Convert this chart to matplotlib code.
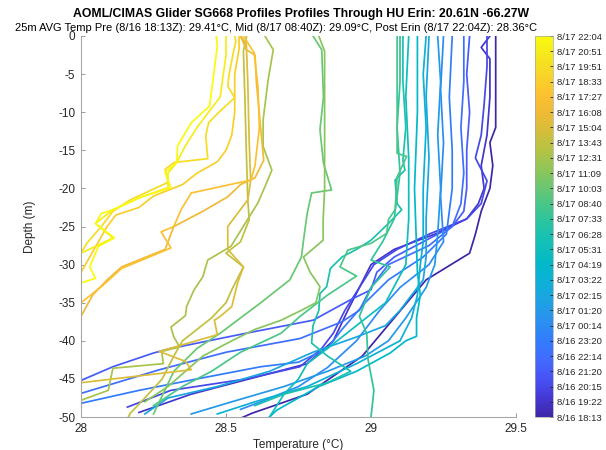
import matplotlib
matplotlib.use("Agg")
import matplotlib.pyplot as plt
import numpy as np
from matplotlib.colors import LinearSegmentedColormap, Normalize
from matplotlib.cm import ScalarMappable

plt.rcParams['font.family'] = ['Liberation Sans', 'DejaVu Sans']
plt.rcParams['axes.unicode_minus'] = False

# profile times, oldest first
times = ['8/16 18:13', '8/16 19:22', '8/16 20:15', '8/16 21:20', '8/16 22:14',
         '8/16 23:20', '8/17 00:14', '8/17 01:20', '8/17 02:15', '8/17 03:22',
         '8/17 04:19', '8/17 05:31', '8/17 06:28', '8/17 07:33', '8/17 08:40',
         '8/17 10:03', '8/17 11:09', '8/17 12:31', '8/17 13:43', '8/17 15:04',
         '8/17 16:08', '8/17 17:27', '8/17 18:33', '8/17 19:51', '8/17 20:51',
         '8/17 22:04']

# temperature (C) and depth (m) along each glider profile
temps = [
    [29.43, 29.43, 29.43, 29.43, 29.41, 29.42, 29.41, 29.38, 29.36, 29.34, 29.19, 29.08, 28.97, 28.78, 28.59, 28.50],
    [29.41, 29.38, 29.41, 29.41, 29.40, 29.38, 29.39, 29.37, 29.33, 29.22, 29.08, 29.00, 28.96, 28.92, 28.87, 28.78, 28.58, 28.38, 28.20],
    [29.40, 29.40, 29.39, 29.38, 29.36, 29.40, 29.38, 29.33, 29.20, 29.09, 29.01, 28.96, 28.91, 28.87, 28.83, 28.755, 28.57, 28.31, 28.16],
    [29.34, 29.33, 29.34, 29.33, 29.33, 29.32, 29.28, 29.18, 29.08, 29.02, 29.00, 28.93, 28.80, 28.57, 28.31, 28.25, 28.11, 28.00, 27.95],
    [29.32, 29.32, 29.31, 29.32, 29.31, 29.28, 29.20, 29.06, 29.00, 28.96, 28.90, 28.755, 28.50, 28.27, 28.00, 27.90],
    [29.28, 29.27, 29.28, 29.28, 29.26, 29.18, 29.06, 28.98, 28.90, 28.85, 28.75, 28.62, 28.40, 28.20, 28.00, 27.90],
    [29.25, 29.24, 29.25, 29.24, 29.25, 29.20, 29.10, 29.03, 28.95, 28.85, 28.75, 28.62, 28.55],
    [29.23, 29.24, 29.23, 29.24, 29.23, 29.22, 29.19, 29.12, 29.06, 28.98, 28.85, 28.70, 28.52, 28.38],
    [29.20, 29.19, 29.20, 29.19, 29.19, 29.18, 29.10, 29.05, 28.95, 28.80, 28.65, 28.47, 28.30, 28.22],
    [29.19, 29.18, 29.19, 29.18, 29.18, 29.17, 29.16, 29.14, 29.10, 28.95, 28.78, 28.60, 28.47],
    [29.16, 29.16, 29.15, 29.16, 29.17, 29.157, 29.157, 29.12, 29.066, 28.95, 28.82, 28.675, 28.65],
    [29.13, 29.12, 29.13, 29.13, 29.12, 29.05, 28.95, 28.85, 28.78, 28.75, 28.70, 28.65],
    [29.11, 29.11, 29.12, 29.11, 29.117, 29.083, 29.09, 29.106, 29.06, 29.00, 28.95, 28.90, 28.86, 28.847, 28.824, 28.82, 28.80, 28.795, 28.85, 28.93, 28.85, 28.70, 28.60],
    [29.10, 29.10, 29.09, 29.10, 29.08, 29.04, 29.00, 29.066, 29.00, 28.96, 28.985, 28.99, 29.01, 29.00],
    [29.09, 29.09, 29.09, 29.09, 29.123, 29.09, 29.083, 29.06, 29.054, 29.00, 28.92, 28.893, 28.95, 28.85, 28.755, 28.69, 28.55, 28.45, 28.35, 28.25],
    [28.80, 28.83, 28.836, 28.824, 28.836, 28.864, 28.795, 28.78, 28.77, 28.76, 28.72, 28.62, 28.55, 28.48, 28.40, 28.32, 28.25],
    [28.82, 28.84, 28.84, 28.84, 28.84, 28.835, 28.835, 28.767, 28.79, 28.824, 28.81, 28.76, 28.69, 28.60, 28.52, 28.42, 28.36, 28.30, 28.22],
    [28.634, 28.663, 28.645, 28.628, 28.628, 28.658, 28.634, 28.61, 28.517, 28.437, 28.42, 28.39, 28.364, 28.36, 28.31, 28.32, 28.34, 28.278, 28.284, 28.11, 28.094, 28.00],
    [28.571, 28.56, 28.565, 28.57, 28.575, 28.58, 28.55, 28.50, 28.56, 28.52, 28.50, 28.45, 28.35, 28.32, 28.28, 28.22, 28.17, 28.15],
    [28.55, 28.57, 28.575, 28.58, 28.585, 28.575, 28.506, 28.506, 28.56, 28.54, 28.52, 28.48, 28.46, 28.47, 28.27, 28.36, 28.38, 28.00],
    [28.55, 28.57, 28.60, 28.605, 28.62, 28.63, 28.60, 28.55, 28.506, 28.42, 28.32, 28.29, 28.14, 28.09, 28.04, 28.00, 27.98],
    [28.56, 28.597, 28.61, 28.615, 28.60, 28.586, 28.38, 28.345, 28.32, 28.276, 28.31, 28.28, 28.14, 28.07, 28.00, 27.97],
    [28.545, 28.545, 28.53, 28.53, 28.52, 28.50, 28.47, 28.40, 28.35, 28.25, 28.20, 28.12, 28.09, 28.06, 28.03, 28.00],
    [28.53, 28.534, 28.523, 28.51, 28.506, 28.53, 28.47, 28.44, 28.43, 28.437, 28.32, 28.29, 28.30, 28.17, 28.11, 28.07, 28.02, 28.00, 27.98],
    [28.50, 28.50, 28.49, 28.48, 28.44, 28.40, 28.36, 28.33, 28.30, 28.30, 28.21, 28.11, 28.05, 28.11, 28.05, 28.00, 27.97],
    [28.466, 28.47, 28.454, 28.443, 28.38, 28.333, 28.33, 28.29, 28.30, 28.31, 28.21, 28.11, 28.07, 28.05, 28.115, 28.06, 28.03, 28.05, 28.00, 27.98],
]
depths = [
    [0, -3, -8, -12, -14, -17, -20, -23, -26, -28.5, -32, -37, -42, -47, -49.5, -51],
    [0, -1.5, -3, -8, -13, -17, -20, -22, -24, -26, -28, -30, -33, -36, -40, -43, -45, -47, -49.4],
    [0, -4, -9, -13, -16, -19, -22, -24, -26, -28, -30, -33, -36, -39, -41, -43.4, -45, -46.5, -48.7],
    [0, -5, -10, -15, -20, -23, -25, -27, -29, -31, -33.3, -34.6, -37.3, -39, -41, -41.6, -43.4, -45.2, -46],
    [0, -6, -12, -18, -22, -25, -27.5, -30, -33, -36, -37.5, -39.7, -41.5, -43.8, -46.9, -48],
    [0, -8, -15, -20, -26, -29, -32, -35, -38.5, -41, -42.8, -43.4, -45, -46.5, -48.2, -49],
    [0, -7, -14, -21, -27, -30, -33, -36, -40, -43.5, -46, -48, -49],
    [0, -6, -13, -20, -26, -30, -33, -37, -40, -42, -44, -46, -48, -49.6],
    [0, -8, -16, -24, -29, -32, -36, -38, -39.5, -41.5, -44, -46, -47.5, -49.6],
    [0, -5, -12, -20, -27, -30, -34, -37, -40, -43, -46, -48, -49.6],
    [0, -10, -20, -31, -34, -37, -39.4, -40, -41.6, -44, -46, -49.1, -50],
    [0, -8, -16, -24, -30, -35, -38, -41, -43, -45, -47, -50],
    [0, -6, -12, -16.3, -17.6, -18.9, -22, -22.8, -24.6, -26.8, -28, -29, -30.5, -32.9, -33.8, -36, -38, -40.3, -42, -44, -45.5, -47, -48.5],
    [0, -6, -12, -18, -24, -27, -29.4, -30.3, -33, -36.8, -39, -42.5, -46.5, -50],
    [0, -5, -10, -15.4, -15.8, -18.5, -22.8, -24.1, -25.9, -27.2, -28.1, -30.3, -31.5, -34, -36.8, -39, -41.5, -44, -46, -48.5],
    [0, -1.8, -8, -12.3, -16.7, -20.2, -20.6, -23.3, -26, -29, -32, -35, -37, -39, -41, -44, -49.6],
    [0, -2, -10, -17, -20, -24.1, -26.8, -29, -31, -32.9, -35, -36, -37.3, -38.5, -40, -42, -44, -46, -48],
    [0, -1.8, -5.8, -11, -14.5, -17.6, -19.8, -21.9, -27.6, -29.4, -31.6, -33.3, -35.5, -36.7, -38.2, -39.5, -40.8, -41.4, -43, -43.6, -46.5, -47.8],
    [0, -2, -8, -15, -21.5, -24.1, -27, -28.5, -30.3, -33.3, -35, -37, -40, -42, -45, -47.5, -49.5, -51],
    [0, -1, -6, -14, -19, -21.5, -25, -28, -30.3, -32.4, -35.5, -36.8, -37.3, -39.2, -41.4, -42.7, -43.8, -45.5],
    [0, -1.8, -2.5, -6.2, -12.3, -16.3, -18.6, -19.5, -21.1, -23, -25, -28, -30.3, -32, -34, -36.8, -37.5],
    [0, -2.2, -6.6, -12, -17, -18.9, -20.6, -22.8, -25, -25.7, -27.8, -28.3, -30.5, -32.9, -35, -36],
    [0, -1.7, -5, -10, -13, -15, -16.5, -18, -19.5, -21, -22.5, -23.5, -25, -27, -29, -31],
    [0, -0.7, -2.6, -5.2, -6.6, -8.1, -10.2, -11.4, -13.1, -16.1, -16.6, -17.5, -19.2, -21.5, -23, -25, -27.2, -28.5, -29],
    [0, -2.6, -5.2, -8, -10, -12, -14.4, -16.6, -18, -19.9, -21.1, -22.8, -24.6, -26.5, -27.6, -28.5, -29.5],
    [0, -1.3, -6.1, -9.2, -11.4, -14.4, -16.6, -17.9, -18.9, -19.9, -21.1, -22.8, -23.3, -24.6, -26.5, -27.6, -30.3, -31.8, -32.4, -33],
]

# parula-like colormap
parula_pts = [
    (0.00, (0.2422, 0.1504, 0.6603)), (0.05, (0.2691, 0.2214, 0.8353)),
    (0.10, (0.2810, 0.3228, 0.9579)), (0.15, (0.2586, 0.4200, 0.9970)),
    (0.20, (0.1959, 0.4873, 0.9894)), (0.25, (0.1707, 0.5641, 0.9404)),
    (0.30, (0.1204, 0.6302, 0.8954)), (0.35, (0.0597, 0.6838, 0.8482)),
    (0.40, (0.0078, 0.7249, 0.7922)), (0.45, (0.0676, 0.7503, 0.7240)),
    (0.50, (0.1398, 0.7633, 0.6525)), (0.55, (0.2602, 0.7746, 0.5590)),
    (0.60, (0.4064, 0.7805, 0.4512)), (0.65, (0.5611, 0.7749, 0.3469)),
    (0.70, (0.7035, 0.7631, 0.2693)), (0.75, (0.8309, 0.7434, 0.2295)),
    (0.80, (0.9390, 0.7286, 0.2100)), (0.85, (0.9956, 0.7611, 0.1895)),
    (0.90, (0.9716, 0.8329, 0.1563)), (0.95, (0.9601, 0.9073, 0.1145)),
    (1.00, (0.9763, 0.9831, 0.0538)),
]
parula = LinearSegmentedColormap.from_list('parula', parula_pts)
norm = Normalize(vmin=0, vmax=len(times) - 1)

fig = plt.figure(figsize=(6.06, 4.5), dpi=100)
ax = fig.add_axes([0.1337, 0.0733, 0.7178, 0.8467])
cax = fig.add_axes([0.8828, 0.0733, 0.0297, 0.8467])

for i, (t, d) in enumerate(zip(temps, depths)):
    ax.plot(t, d, color=parula(norm(i)), lw=1.25, solid_joinstyle='round')

ax.set_xlim(28, 29.5)
ax.set_ylim(-50, 0)
ax.set_xticks([28, 28.5, 29, 29.5])
ax.set_xticklabels(['28', '28.5', '29', '29.5'])
ax.set_yticks(np.arange(-50, 1, 5))
ax.tick_params(direction='in', length=3, width=0.6, colors='#8c8c8c',
               labelcolor='#262626', labelsize=8.5, pad=4)
for side in ['top', 'right']:
    ax.spines[side].set_visible(False)
for side in ['left', 'bottom']:
    ax.spines[side].set_color('#a6a6a6')
    ax.spines[side].set_linewidth(0.8)
ax.set_xlabel('Temperature (°C)', fontsize=8.5, color='#262626', labelpad=3)
ax.set_ylabel('Depth (m)', fontsize=8.5, color='#262626', labelpad=16)

fig.text(0.497, 0.969, 'AOML/CIMAS Glider SG668 Profiles Profiles Through HU Erin: 20.61N -66.27W',
         ha='center', va='center', fontsize=8.8, fontweight='bold', color='black')
fig.text(0.455, 0.938, '25m AVG Temp Pre (8/16 18:13Z): 29.41°C, Mid (8/17 08:40Z): 29.09°C, '
         'Post Erin (8/17 22:04Z): 28.36°C',
         ha='center', va='center', fontsize=8.0, color='black')

sm = ScalarMappable(norm=norm, cmap=parula)
cb = fig.colorbar(sm, cax=cax)
cb.set_ticks(np.arange(len(times)))
cb.set_ticklabels(times)
cb.outline.set_linewidth(0.5)
cb.outline.set_edgecolor('#a6a6a6')
cax.tick_params(direction='in', length=2.5, width=0.6, colors='#262626',
                labelsize=6.8, pad=3)

fig.savefig('out.png', dpi=100)
